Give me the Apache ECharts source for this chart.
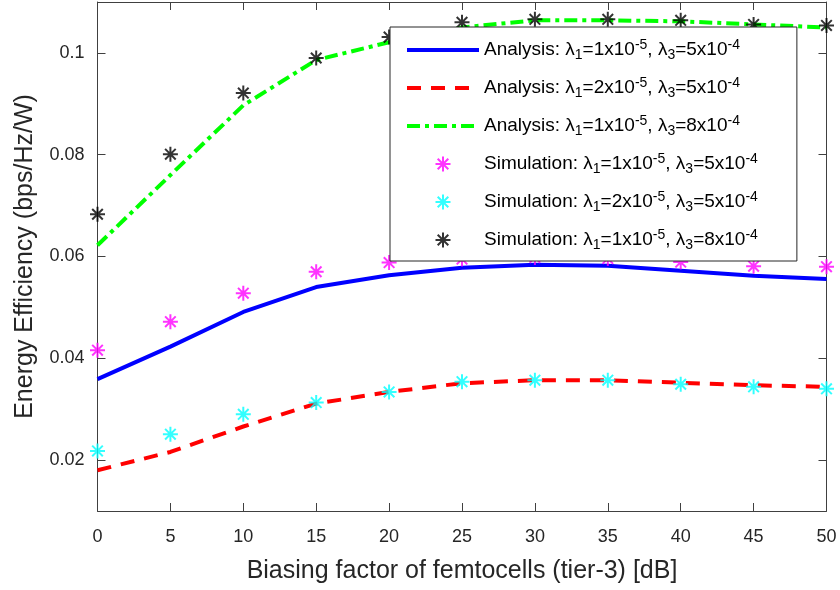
<!DOCTYPE html>
<html>
<head>
<meta charset="utf-8">
<script src="https://cdn.jsdelivr.net/npm/echarts@6/dist/echarts.min.js"></script>
<style>html,body{margin:0;padding:0;background:#fff}#c{width:840px;height:590px}</style>
</head>
<body>
<div id="c"></div>
<script>
var xValues = [0, 5, 10, 15, 20, 25, 30, 35, 40, 45, 50];
var anaL1a = [0.0359, 0.0423, 0.0491, 0.0540, 0.0563, 0.0578, 0.0584, 0.0582, 0.0572, 0.0562, 0.0556];
var anaL2a = [0.0180, 0.0216, 0.0266, 0.0311, 0.0334, 0.0351, 0.0357, 0.0357, 0.0352, 0.0347, 0.0344];
var anaL1b = [0.0622, 0.0760, 0.0897, 0.0986, 0.1021, 0.1050, 0.1064, 0.1064, 0.1062, 0.1056, 0.1050];
var simL1a = [0.0416, 0.0472, 0.0528, 0.0570, 0.0588, 0.0595, 0.0598, 0.0596, 0.0589, 0.0581, 0.0580];
var simL2a = [0.0218, 0.0251, 0.0290, 0.0313, 0.0334, 0.0354, 0.0357, 0.0357, 0.0349, 0.0344, 0.0340];
var simL1b = [0.0683, 0.0801, 0.0921, 0.0990, 0.1031, 0.1060, 0.1066, 0.1066, 0.1064, 0.1056, 0.1054];
var yTicks = [0.02, 0.04, 0.06, 0.08, 0.1];
var yTickLabels = ['0.02', '0.04', '0.06', '0.08', '0.1'];

function pairs(vals) { return xValues.map(function (x, i) { return [x, vals[i]]; }); }

var legendText = {
  a1: '{n|Analysis: λ}{sub|1}{n|=1x10}{sup|-5}{n|, λ}{sub|3}{n|=5x10}{sup|-4}',
  a2: '{n|Analysis: λ}{sub|1}{n|=2x10}{sup|-5}{n|, λ}{sub|3}{n|=5x10}{sup|-4}',
  a3: '{n|Analysis: λ}{sub|1}{n|=1x10}{sup|-5}{n|, λ}{sub|3}{n|=8x10}{sup|-4}',
  s1: '{n|Simulation: λ}{sub|1}{n|=1x10}{sup|-5}{n|, λ}{sub|3}{n|=5x10}{sup|-4}',
  s2: '{n|Simulation: λ}{sub|1}{n|=2x10}{sup|-5}{n|, λ}{sub|3}{n|=5x10}{sup|-4}',
  s3: '{n|Simulation: λ}{sub|1}{n|=1x10}{sup|-5}{n|, λ}{sub|3}{n|=8x10}{sup|-4}'
};

var star = 'path://M0,-10L0,10M-10,0L10,0M-7.07,-7.07L7.07,7.07M-7.07,7.07L7.07,-7.07';
var FONT = '"Liberation Sans", Arial, Helvetica, sans-serif';
var AX = '#404040';

function lineSeries(name, vals, color, dash) {
  return {
    name: name, type: 'line', data: pairs(vals), symbol: 'none', showSymbol: false,
    smooth: false, z: 2,
    lineStyle: { color: color, width: 4, type: dash },
    itemStyle: { color: color }
  };
}
function starSeries(name, vals, color) {
  return {
    name: name, type: 'scatter', data: pairs(vals), symbol: star, symbolSize: 15, z: 3,
    itemStyle: { color: color, borderColor: color, borderWidth: 2 }
  };
}

var chart = echarts.init(document.getElementById('c'), null, { renderer: 'canvas' });
chart.setOption({
  animation: false,
  backgroundColor: '#fff',
  textStyle: { fontFamily: FONT },
  grid: { left: 97.5, right: 13.5, top: 2, bottom: 79, containLabel: false },
  xAxis: [{
    type: 'value', min: 0, max: 50, interval: 5, position: 'bottom',
    name: 'Biasing factor of femtocells (tier-3) [dB]', nameLocation: 'middle', nameGap: 48,
    nameTextStyle: { fontSize: 25, color: '#262626', fontFamily: FONT },
    axisLine: { show: true, onZero: false, lineStyle: { color: AX, width: 1 } },
    axisTick: { show: true, inside: true, length: 8, lineStyle: { color: AX } },
    axisLabel: { fontSize: 18, color: '#262626', margin: 17, fontFamily: FONT },
    splitLine: { show: false }
  }, {
    type: 'value', min: 0, max: 50, interval: 5, position: 'top',
    axisLine: { show: true, onZero: false, lineStyle: { color: AX, width: 1 } },
    axisTick: { show: true, inside: true, length: 8, lineStyle: { color: AX } },
    axisLabel: { show: false }, splitLine: { show: false }
  }],
  yAxis: [{
    type: 'value', min: 0.01, max: 0.11, position: 'left',
    name: 'Energy Efficiency (bps/Hz/W)', nameLocation: 'middle', nameGap: 60,
    nameTextStyle: { fontSize: 25, color: '#262626', fontFamily: FONT },
    axisLine: { show: true, onZero: false, lineStyle: { color: AX, width: 1 } },
    axisTick: { show: true, inside: true, length: 8, lineStyle: { color: AX }, customValues: yTicks },
    axisLabel: {
      fontSize: 18, color: '#262626', margin: 13, fontFamily: FONT, customValues: yTicks,
      formatter: function (v) {
        for (var i = 0; i < yTicks.length; i++) { if (Math.abs(v - yTicks[i]) < 1e-9) return yTickLabels[i]; }
        return '';
      }
    },
    splitLine: { show: false }
  }, {
    type: 'value', min: 0.01, max: 0.11, position: 'right',
    axisLine: { show: true, onZero: false, lineStyle: { color: AX, width: 1 } },
    axisTick: { show: true, inside: true, length: 8, lineStyle: { color: AX }, customValues: yTicks },
    axisLabel: { show: false, customValues: yTicks }, splitLine: { show: false }
  }],
  legend: {
    left: 390, top: 27, orient: 'vertical',
    backgroundColor: '#fff', borderColor: '#262626', borderWidth: 1,
    padding: [11, 39, 9, 15],
    itemWidth: 72, itemHeight: 15, itemGap: 14, itemTextGap: 7,
    z: 10,
    lineStyle: { width: 'inherit' },
    data: [
      { name: 'a1', itemStyle: { opacity: 0 } },
      { name: 'a2', itemStyle: { opacity: 0 } },
      { name: 'a3', itemStyle: { opacity: 0 } },
      's1', 's2', 's3'
    ],
    formatter: function (n) { return legendText[n]; },
    textStyle: {
      fontFamily: FONT, color: '#000',
      rich: {
        n: { fontSize: 19, lineHeight: 24, color: '#000', fontFamily: FONT, verticalAlign: 'middle' },
        sub: { fontSize: 14, lineHeight: 24, color: '#000', fontFamily: FONT, verticalAlign: 'bottom' },
        sup: { fontSize: 14, lineHeight: 24, color: '#000', fontFamily: FONT, verticalAlign: 'top' }
      }
    }
  },
  series: [
    lineSeries('a1', anaL1a, '#0000ff', 'solid'),
    lineSeries('a2', anaL2a, '#ff0000', [14, 10]),
    lineSeries('a3', anaL1b, '#00ff00', [13, 5, 4, 5]),
    starSeries('s1', simL1a, '#ff00ff'),
    starSeries('s2', simL2a, '#00ffff'),
    starSeries('s3', simL1b, '#000000')
  ]
});
</script>
</body>
</html>
